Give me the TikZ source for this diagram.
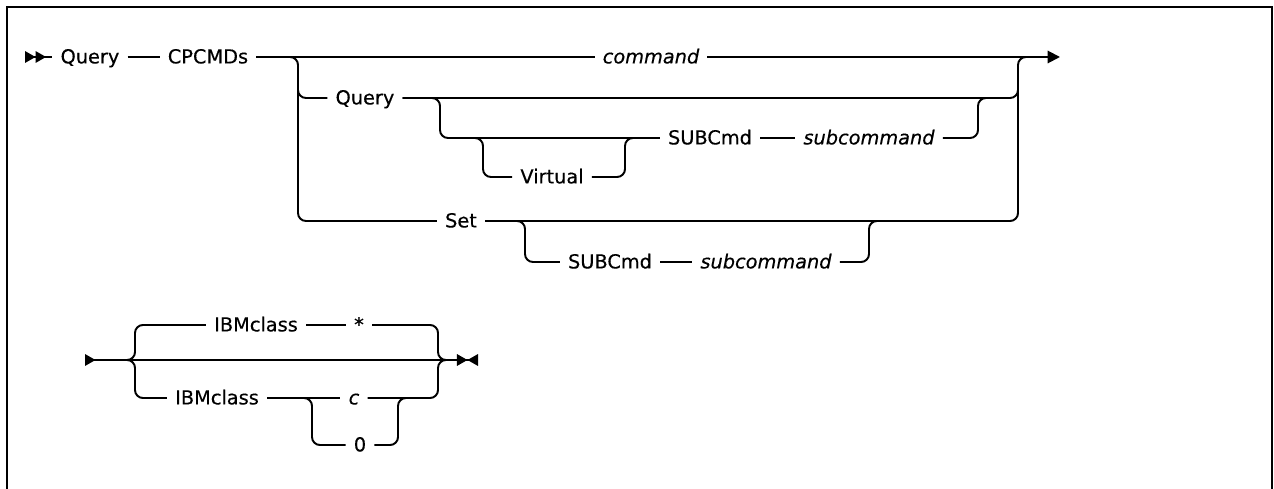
\documentclass[tikz,border=0pt]{standalone}
\usepackage{fontspec}
\setmainfont{DejaVu Sans}[UprightFeatures={FakeBold=0.4}, ItalicFeatures={FakeBold=0.4}]
\usetikzlibrary{arrows.meta}

\begin{document}
\begin{tikzpicture}[x=0.02cm,y=-0.02cm,
    kw/.style={font=\fontsize{11}{13}\selectfont, inner xsep=4.5pt, inner ysep=0pt, text height=0.73em, text depth=0pt},
    var/.style={kw, font=\fontsize{11}{13}\selectfont\itshape},
    rail/.style={line width=1.1pt, rounded corners=4.5pt}]
  \useasboundingbox (0,0) rectangle (1274,489);
  \draw[line width=1.6pt] (7,489) -- (7,7) -- (1272,7) -- (1272,489);

  % first part
  \node[kw] (query) at (90,57) {Query};
  \node[kw] (cpcmds) at (208,57) {CPCMDs};
  \node[var] (command) at (651,57) {command};
  \node[kw] (qry) at (365,98) {Query};
  \node[kw] (virtual) at (552,177) {Virtual};
  \node[kw] (subq) at (710,138) {SUBCmd};
  \node[var] (subcmdq) at (869,138) {subcommand};
  \node[kw] (set) at (461,221) {Set};
  \node[kw] (subs) at (610,262) {SUBCmd};
  \node[var] (subcmds) at (766,262) {subcommand};
  \coordinate (begin) at (25,57);
  \coordinate (fin) at (1060,57);

  \draw[rail,{Triangle[reversed,length=6pt,width=6.5pt]Triangle[reversed,length=6pt,width=6.5pt]}-] (begin) -- (query);
  \draw[rail] (query) -- (cpcmds);
  \draw[rail] (cpcmds) -- (command);
  \draw[rail,-{Triangle[length=7pt,width=7pt]}] (command) -- (fin);
  \draw[rail] (cpcmds.east) -| (298,221) -- (set.west);
  \draw[rail] (298,90) |- (qry.west);
  \draw[rail] (qry.east) -| (1018,90);
  \draw[rail] (set.east) -| (1018,57) -- (1030,57);
  \draw[rail] (qry.east) -| (440,138) -- (subq.west);
  \draw[rail] (470,138) -| (483,177) -- (virtual.west);
  \draw[rail] (virtual.east) -| (625,138) -- (640,138);
  \draw[rail] (subq) -- (subcmdq);
  \draw[rail] (subcmdq.east) -| (978,98) -- (990,98);
  \draw[rail] (set.east) -| (525,262) -- (subs.west);
  \draw[rail] (subs) -- (subcmds);
  \draw[rail] (subcmds.east) -| (869,221) -- (880,221);

  % second part
  \node[kw] (ibmstar) at (256,325) {IBMclass};
  \node[kw] (star) at (359,325) {*};
  \node[kw] (ibmc) at (217,398) {IBMclass};
  \node[var] (cvar) at (354,398) {c};
  \node[kw] (zero) at (360,445) {0};
  \coordinate (start) at (85,360);
  \coordinate (stop) at (478,360);

  \draw[rail,{Triangle[reversed,length=6pt,width=6.5pt]}-{Triangle[length=6pt,width=6.5pt]Triangle[reversed,length=6pt,width=6.5pt]}] (start) -- (stop);
  \draw[rail] (start) -| (135,325) -- (ibmstar.west);
  \draw[rail] (start) -| (135,398) -- (ibmc.west);
  \draw[rail] (ibmstar) -- (star);
  \draw[rail] (star.east) -| (438,360) -- (450,360);
  \draw[rail] (ibmc) -- (cvar);
  \draw[rail] (cvar.east) -| (438,360) -- (450,360);
  \draw[rail] (ibmc.east) -| (312,445) -- (zero.west);
  \draw[rail] (zero.east) -| (398,398) -- (410,398);
\end{tikzpicture}
\end{document}
